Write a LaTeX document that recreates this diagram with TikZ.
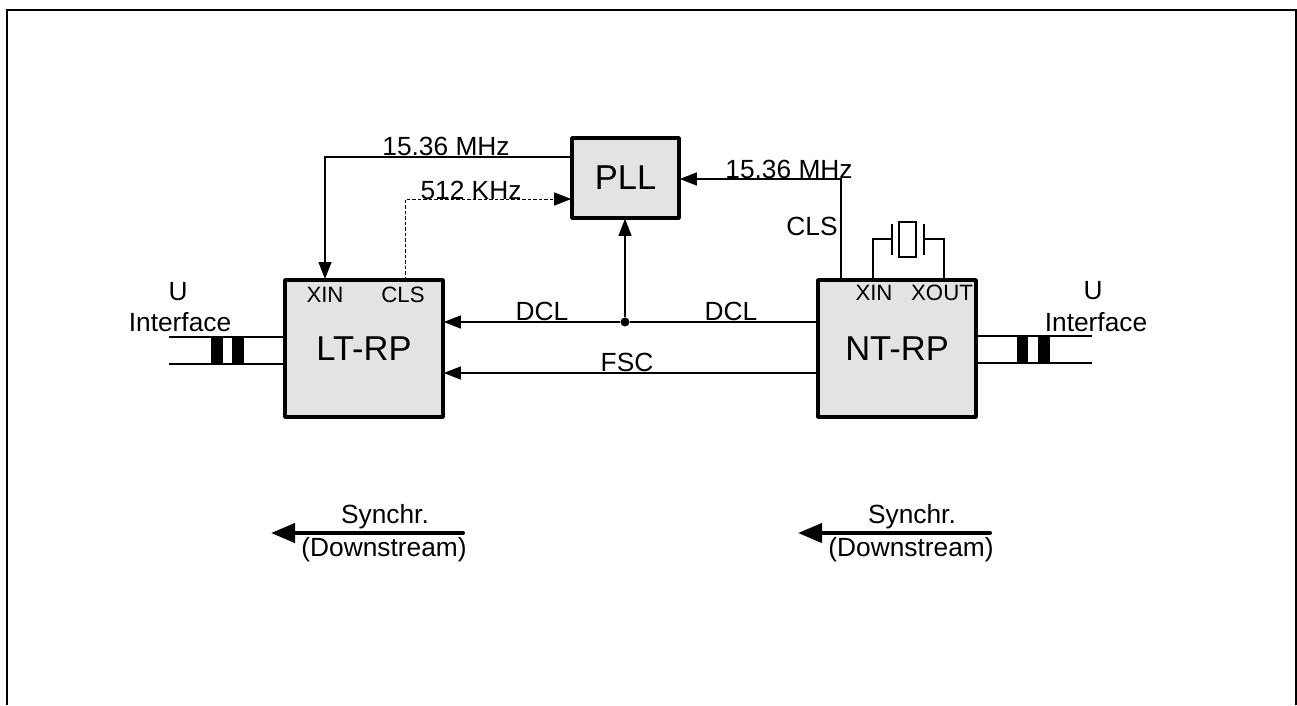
\documentclass[tikz,border=0pt]{standalone}
\usepackage{fontspec}
\setmainfont{Liberation Sans}
\usetikzlibrary{arrows.meta}
\tikzset{
  blockbox/.style={draw=black,fill=blockgray,line width=3.8pt,inner sep=0pt,outer sep=0.8pt,rounded corners=0.5pt,font=\fontsize{34.5}{34.5}\selectfont},
  lbl/.style={anchor=base,inner sep=0pt,font=\fontsize{26.3}{26.3}\selectfont},
  pin/.style={anchor=base,inner sep=0pt,font=\fontsize{22.2}{22.2}\selectfont},
  wire/.style={line width=1.1pt,draw=black},
  sig/.style={wire,-{Triangle[length=17pt,width=13pt]}},
  dashsig/.style={sig,line width=0.9pt,dash pattern=on 3.5pt off 2pt},
  bar/.style={fill=black,inner sep=0pt,outer sep=0pt,minimum width=11.5pt,minimum height=28pt},
  plate/.style={line width=1.6pt,draw=black},
  sync/.style={line width=4pt,draw=black,line cap=round,-{Triangle[length=24pt,width=19pt]}}
}
\definecolor{blockgray}{HTML}{E3E3E3}
\begin{document}
\begin{tikzpicture}[x=1pt,y=-1pt]
\path[use as bounding box] (0,0) rectangle (1297,705);
\draw[line width=2.6pt] (7,705) -- (7,10) -- (1296,10) -- (1296,705);
% blocks
\node[blockbox,minimum width=158pt,minimum height=137pt] (lt) at (364,348.5) {LT-RP};
\node[blockbox,minimum width=158pt,minimum height=137pt] (nt) at (897,348.5) {NT-RP};
\node[blockbox,minimum width=107pt,minimum height=80pt] (pll) at (625.5,178) {PLL};
% helper coordinates
\coordinate (xinl) at (325,279);
\coordinate (clsl) at (405,280);
\coordinate (clsr) at (841,280);
\coordinate (topl) at (325,157);
\coordinate (dashc) at (405,199);
\coordinate (topr) at (841,179);
\coordinate (fscy) at (0,373);
\coordinate (uendl) at (169,337);
\coordinate (uendlb) at (169,364);
\coordinate (uendr) at (1092,336);
\coordinate (uendrb) at (1092,363);
\node[circle,fill=black,inner sep=0pt,minimum size=9pt] (dot) at (625,322) {};
% connectors
\draw[sig] (pll.west |- topl) -- (topl) -- (xinl);
\draw[dashsig] (clsl) -- (dashc) -- (pll.west |- dashc);
\draw[sig] (clsr) -- (topr) -- (pll.east |- topr);
\draw[wire] (nt.west |- dot) -- (dot);
\draw[sig] (dot) -- (lt.east |- dot);
\draw[sig] (dot) -- (pll.south -| dot);
\draw[sig] (nt.west |- fscy) -- (lt.east |- fscy);
% U interface left
\draw[wire] (uendl) -- (lt.west |- uendl);
\draw[wire] (uendlb) -- (lt.west |- uendlb);
\node[bar] (bl1) at (217,350.5) {};
\node[bar] (bl2) at (238,350.5) {};
% U interface right
\draw[wire] (nt.east |- uendr) -- (uendr);
\draw[wire] (nt.east |- uendrb) -- (uendrb);
\node[bar] (br1) at (1022.5,349.5) {};
\node[bar] (br2) at (1044,349.5) {};
% crystal
\node[draw=black,line width=1.6pt,inner sep=0pt,outer sep=0pt,minimum width=17pt,minimum height=35pt] (xtal) at (907.5,239.5) {};
\coordinate (pl) at (892,239);
\coordinate (pr) at (924,239);
\draw[plate] (892,224) -- (892,255);
\draw[plate] (924,224) -- (924,255);
\draw[wire] (873,280) -- (873,239) -- (pl);
\draw[wire] (944,280) -- (944,239) -- (pr);
% synchr arrows
\coordinate (s1a) at (463,533);
\coordinate (s1b) at (271,533);
\coordinate (s2a) at (990,533);
\coordinate (s2b) at (798,533);
\draw[sync] (s1a) -- (s1b);
\draw[sync] (s2a) -- (s2b);
% labels
\node[lbl] (t1) at (446,155) {15.36 MHz};
\node[lbl] (t2) at (471,199) {512 KHz};
\node[lbl] (t3) at (789,178) {15.36 MHz};
\node[lbl] (t4) at (812,235) {CLS};
\node[lbl] (t5) at (542,320) {DCL};
\node[lbl] (t6) at (731,320) {DCL};
\node[lbl] (t7) at (627,371) {FSC};
\node[lbl] (t8) at (178,300) {U};
\node[lbl] (t9) at (180,331) {Interface};
\node[lbl] (t10) at (1093,299) {U};
\node[lbl] (t11) at (1096,331) {Interface};
\node[pin] (p1) at (325,302) {XIN};
\node[pin] (p2) at (403,302) {CLS};
\node[pin] (p3) at (874,300) {XIN};
\node[pin] (p4) at (942,300) {XOUT};
\node[lbl] (s1) at (385,523) {Synchr.};
\node[lbl] (s2) at (384,556) {(Downstream)};
\node[lbl] (s3) at (912,523) {Synchr.};
\node[lbl] (s4) at (911,556) {(Downstream)};
\end{tikzpicture}
\end{document}
